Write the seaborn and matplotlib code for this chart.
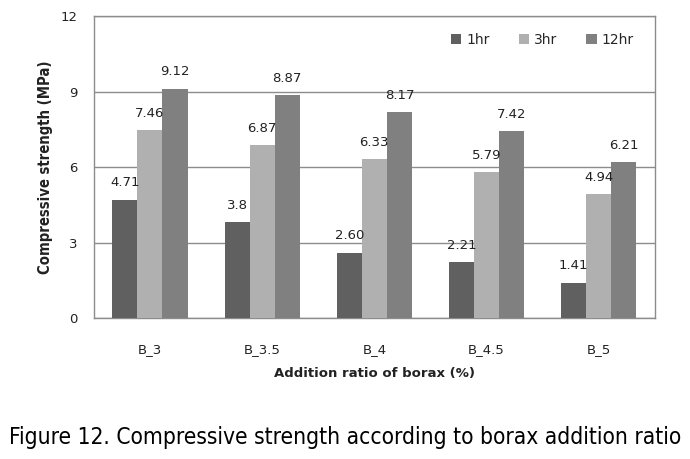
import matplotlib
matplotlib.use('Agg')
import matplotlib.pyplot as plt
import seaborn as sns
import pandas as pd

# data
ratios = ['B_3', 'B_3.5', 'B_4', 'B_4.5', 'B_5']
hr1 = [4.71, 3.8, 2.60, 2.21, 1.41]
hr3 = [7.46, 6.87, 6.33, 5.79, 4.94]
hr12 = [9.12, 8.87, 8.17, 7.42, 6.21]
hr1_labels = ['4.71', '3.8', '2.60', '2.21', '1.41']
hr3_labels = ['7.46', '6.87', '6.33', '5.79', '4.94']
hr12_labels = ['9.12', '8.87', '8.17', '7.42', '6.21']
series = ['1hr', '3hr', '12hr']
colors = ['#606060', '#b0b0b0', '#808080']

rows = []
for name, vals in zip(series, [hr1, hr3, hr12]):
    for r, v in zip(ratios, vals):
        rows.append({'ratio': r, 'time': name, 'strength': v})
df = pd.DataFrame(rows)

sns.set_style('white')
plt.rcParams['font.family'] = ['DejaVu Sans']

fig = plt.figure(figsize=(6.9, 4.59), dpi=100)
ax = fig.add_axes([0.136, 0.307, 0.813, 0.658])

sns.barplot(data=df, x='ratio', y='strength', hue='time', order=ratios,
            hue_order=series, palette=colors, width=0.67, saturation=1,
            edgecolor='none', ax=ax, zorder=3)

# value labels above each bar
for cont, labs in zip(ax.containers, [hr1_labels, hr3_labels, hr12_labels]):
    for bar, lab in zip(cont, labs):
        ax.annotate(lab, (bar.get_x() + bar.get_width() / 2, bar.get_height()),
                    xytext=(0, 12), textcoords='offset points',
                    ha='center', va='center', fontsize=9.5, color='#222222')

ax.set_ylim(0, 12)
ax.set_yticks([0, 3, 6, 9, 12])
ax.set_xlim(-0.5, 4.5)
ax.yaxis.grid(True, color='#8c8c8c', linewidth=1, zorder=0)
ax.set_axisbelow(True)
for s in ax.spines.values():
    s.set_color('#8c8c8c')
    s.set_linewidth(1)
ax.tick_params(axis='both', length=0, labelsize=9.5, colors='#222222')
ax.tick_params(axis='x', pad=18)
ax.tick_params(axis='y', pad=12)

ax.set_xlabel('Addition ratio of borax (%)', fontsize=9.5, fontweight='bold',
              labelpad=8, color='#222222')
ax.set_ylabel('Compressive strength (MPa)', fontsize=10.6, fontweight='bold',
              labelpad=5, color='#222222', fontstretch='condensed')

leg = ax.legend(loc='upper right', ncol=3, frameon=False, fontsize=10,
                handlelength=0.75, handleheight=0.75, handletextpad=0.35,
                columnspacing=2.1, bbox_to_anchor=(0.985, 0.985))

fig.text(0.5, 0.047, 'Figure 12. Compressive strength according to borax addition ratio',
         ha='center', va='center', fontsize=16.3, color='black',
         family='DejaVu Sans', fontstretch='condensed')

fig.savefig('out.png', dpi=100)
